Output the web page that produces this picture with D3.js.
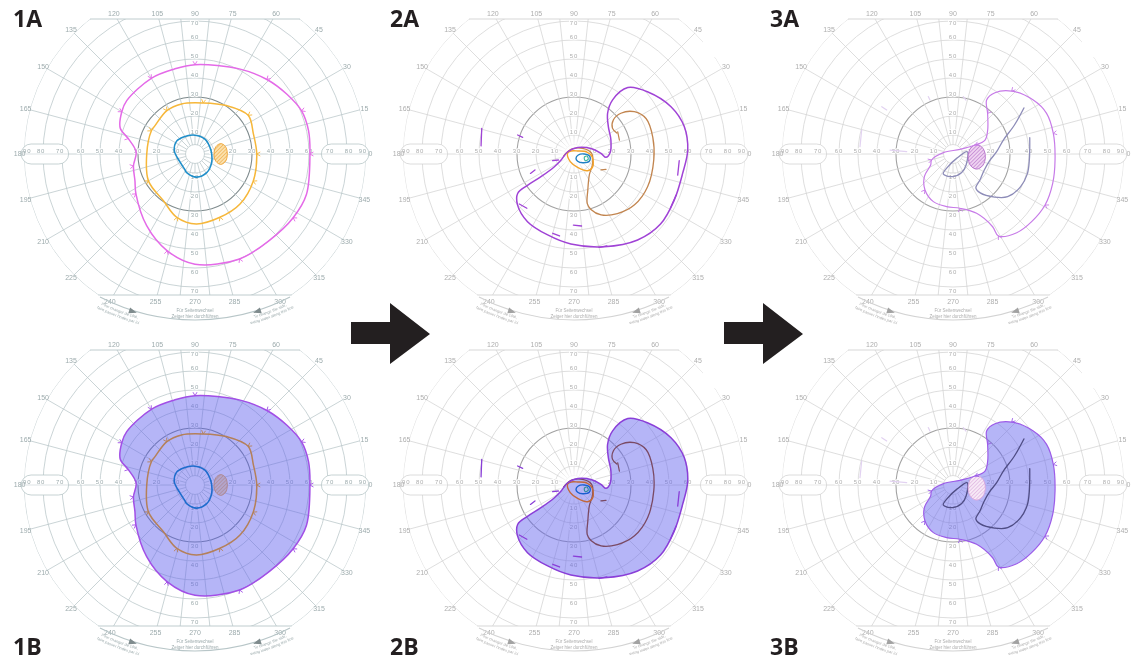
<!DOCTYPE html>
<meta charset="utf-8">
<style>
body { margin: 0; background: #fff; }
svg { will-change: transform; }
text { font-family: "Liberation Sans", Arial, sans-serif; }
.plabel { font-family: "Open Sans", sans-serif; font-weight: 700; font-size: 23px; fill: #231f20; }
</style>
<svg width="1131" height="664"></svg>
<script src="https://d3js.org/d3.v7.min.js"></script>
<script>

// ---- chart form (Goldmann perimeter) ----
var ringDeg = [5, 10, 20, 30, 40, 50, 60, 70, 80, 90];
var axisLabelDeg = [10, 20, 30, 40, 50, 60];
var capsuleDeg = [70, 80, 90];
var vertLabelDeg = [10, 20, 30, 40, 50, 60, 70];
var meridianDeg = [0, 15, 30, 45, 60, 75, 105, 120, 135, 150, 165, 180, 195, 210, 225, 240, 255, 285, 300, 315, 330, 345];
var nearVerticalDeg = [84, 96, 264, 276];
var meridianLabelDeg = [0, 15, 30, 45, 60, 75, 90, 105, 120, 135, 150, 165, 180, 195, 210, 225, 240, 255, 270, 285, 300, 315, 330, 345];

var panelNames = ["1A", "2A", "3A", "1B", "2B", "3B"];
var colX = [195, 574, 953];
var rowY = [154, 485];

// ---- isopters: [meridian angle, eccentricity] ----
var magenta1 = [[0,60.5],[11.6,61],[22,60.5],[33,57.7],[46,54.5],[62,50.6],[90,47],[104,46],[120,46],[142,45.6],[150,44.5],[161,41.6],[167,36],[178,31],[191,33],[204,34.6],[214,37.5],[236,45.5],[254,53],[270,58],[293,60],[311,60],[327,61.6],[340,62.4]];
var orange1 = [[0,32.5],[19,32.5],[36,34.6],[57,30.4],[81,27.2],[105,27.3],[123,27.2],[145,25.8],[152,26],[180,25.4],[210,28.3],[236,29.7],[254,34.7],[271,36.8],[291.5,35.8],[312,35.4],[335,33.8]];
var blue1 = [[0,8.8],[23,8.6],[56,9.4],[95,10],[124,10.8],[145,11.8],[171,11],[205,9],[237,9.8],[246,10.7],[274,12.2],[302,11.6],[332,9.9]];
var blind1 = [[0,17],[14,16.5],[22,14.6],[19.5,11.7],[0,10],[340.5,11.7],[338,14.6],[346,16.5]];

var purple2 = [[51,45],[40,50.8],[26,56.8],[14,59.8],[2,59.9],[350,58.1],[335,58.1],[321,58.6],[306.5,56.3],[288,51.3],[268,47.4],[252,44.8],[235.5,43.2],[222,40],[215,36.2],[214,29.3],[214.5,21.1],[213,12.3],[205,7.5],[160,3.5],[60,3.9],[18,9.4],[1.5,14.2],[354,16.9],[2,19],[21,20.8],[38.5,23.1],[50.5,27.8],[54.5,35]];
var brown2 = [[191,5.5],[123,2.9],[33,5.4],[2,9.3],[333,11],[306,13.7],[291,20.3],[285,27],[287,30.5],[294,35.1],[306,38.8],[320,41.6],[336,42.4],[356,42.1],[12,42.4],[26,42.3],[35,38.8],[41,32.7],[41,27.5],[34,24.4],[26,25.1]];
var orange2 = [[174,3.4],[244,4.5],[285,7.3],[309,11.3],[326,11.9],[351.6,9.6],[8.7,6.9],[39,2.5],[135,2.2]];
var blue2 = [[295,2.5],[347,2.3],[0,5.4],[350.5,8.5],[334.4,8.9],[315,6.5],[296.6,4.3]];
var teal2 = [[342,5.7],[351,6.9],[339.6,8],[329.5,6.9]];
var purpleBits2 = [
  [[164.5,50.4],[175,49.1]], [[161.4,31.3],[162,28.4]], [[204,25.1],[202.3,22.2]],
  [[197.4,11.8],[201,8.8]], [[356.4,55.5],[348.5,55.7]], [[338,57.9],[330.6,58.2]],
  [[269.5,37.4],[276,38.1]], [[222.4,39],[229,37.8]], [[285,50.9],[289.7,51.4]],
  [[255,43.2],[260,43.8]]
];
var brownBits2 = [[[329.4,16.5],[334.4,18.7]], [[27,25.8],[17,25]]];

var violet3 = [[195.7,11.7],[172,5.1],[33.7,4.4],[22.2,12.5],[23.6,18.4],[34.7,22.2],[49.6,28.1],[58.1,33.5],[55.6,39.1],[47,45.3],[33.9,50.9],[23.5,53.7],[11.6,53.9],[356.6,53.8],[343.6,54.7],[331,55.4],[319.3,54.6],[309,53.3],[299,49.3],[298.6,43.6],[291.7,33.6],[277.3,28.8],[263.1,27.9],[247.6,27.1],[232.1,24],[218.3,19.2],[206.2,13.1]];
var slate3 = [[33,44.5],[25,35.5],[15.5,27.5],[3,23],[349,19.5],[332,18.5],[316,19.7],[304,21.5],[305,25],[314,31.5],[322,36.5],[334,39.5],[345,40.5],[355.5,40.3],[12,41.3]];
var loop3 = [[9,7.6],[310,3],[247,7.6],[244,11.7],[269,11.9],[295,10.8],[320,9]];
var blind3 = [[355,17.1],[11,16],[22,13.5],[18.5,9.8],[349.5,8.1],[326.5,11.1],[327.5,14.8],[339,16.8]];
var faintBits3 = [
  [[165.3,49.7],[175.5,49.1]], [[146.4,45],[146.4,41.9]], [[113.3,32.9],[113.1,30.9]],
  [[176.4,33.2],[177.1,24.4]], [[79.8,30.7],[76.5,29.2]]
];

// ---- setup ----
var svg = d3.select("svg");
var defs = svg.append("defs");
var r = d3.scaleLinear().domain([0, 90]).range([0, 171]);
var topCut = -135, bottomCut = 141;

defs.append("clipPath").attr("id", "clipRect").append("rect")
    .attr("x", -200).attr("y", topCut).attr("width", 400).attr("height", bottomCut - topCut);
defs.append("clipPath").attr("id", "clipCircle").append("circle").attr("r", r(90));

var glow = defs.append("radialGradient").attr("id", "centerGlow");
glow.append("stop").attr("offset", "0%").attr("stop-color", "#fff").attr("stop-opacity", 0.95);
glow.append("stop").attr("offset", "60%").attr("stop-color", "#fff").attr("stop-opacity", 0.7);
glow.append("stop").attr("offset", "100%").attr("stop-color", "#fff").attr("stop-opacity", 0);

function hatch(id, bg, fg) {
  var p = defs.append("pattern").attr("id", id).attr("patternUnits", "userSpaceOnUse")
      .attr("width", 2.6).attr("height", 2.6).attr("patternTransform", "rotate(45)");
  p.append("rect").attr("width", 2.6).attr("height", 2.6).attr("fill", bg);
  p.append("line").attr("x1", 0).attr("y1", 0).attr("x2", 0).attr("y2", 2.6)
      .attr("stroke", fg).attr("stroke-width", 1.1);
}
hatch("hOrange", "#fbe1ae", "#eea436");
hatch("hViolet", "#efd3f1", "#b46cc9");
hatch("hPink", "#f7e9f6", "#d9a6dc");

function pt(d) {
  var a = d[0] * Math.PI / 180;
  return [r(d[1]) * Math.cos(a), -r(d[1]) * Math.sin(a)];
}
var closedLine = d3.line().curve(d3.curveCatmullRomClosed.alpha(0.5));
var openLine = d3.line().curve(d3.curveCatmullRom.alpha(0.5));

var theme1 = {line: "#b8c6c8", dark: "#7f8b8d", text: "#9dabad"};
var theme23 = {line: "#d3d3d3", dark: "#a2a2a2", text: "#aeaeae"};

function drawBase(g, th, idx) {
  var inner = g.append("g").attr("clip-path", "url(#clipRect)")
      .append("g").attr("clip-path", "url(#clipCircle)");

  inner.selectAll("circle").data(ringDeg).join("circle")
      .attr("r", function(d) { return r(d); })
      .attr("fill", "none")
      .attr("stroke", function(d) { return d === 30 ? th.dark : th.line; })
      .attr("stroke-width", function(d) { return d === 30 ? 1.1 : 0.75; });

  inner.selectAll("line.m").data(meridianDeg).join("line").attr("class", "m")
      .attr("x1", function(d) { return pt([d, 5])[0]; })
      .attr("y1", function(d) { return pt([d, 5])[1]; })
      .attr("x2", function(d) { return pt([d, 96])[0]; })
      .attr("y2", function(d) { return pt([d, 96])[1]; })
      .attr("stroke", th.line).attr("stroke-width", 0.75);

  inner.selectAll("line.v").data(nearVerticalDeg).join("line").attr("class", "v")
      .attr("x1", function(d) { return pt([d, 10])[0]; })
      .attr("y1", function(d) { return pt([d, 10])[1]; })
      .attr("x2", function(d) { return pt([d, 96])[0]; })
      .attr("y2", function(d) { return pt([d, 96])[1]; })
      .attr("stroke", th.line).attr("stroke-width", 0.75);

  inner.selectAll("line.s").data([90, 270]).join("line").attr("class", "s")
      .attr("x1", function(d) { return pt([d, 5])[0]; })
      .attr("y1", function(d) { return pt([d, 5])[1]; })
      .attr("x2", function(d) { return pt([d, 10])[0]; })
      .attr("y2", function(d) { return pt([d, 10])[1]; })
      .attr("stroke", th.line).attr("stroke-width", 0.75);

  // top and bottom chords
  [topCut, bottomCut].forEach(function(y) {
    var hx = Math.sqrt(r(90) * r(90) - y * y);
    g.append("line").attr("x1", -hx).attr("x2", hx).attr("y1", y).attr("y2", y)
        .attr("stroke", th.line).attr("stroke-width", 0.9);
  });

  // capsules on the horizontal meridian
  [1, -1].forEach(function(s) {
    var x0 = r(66.5), x1 = r(91.5);
    g.append("rect").attr("x", s > 0 ? x0 : -x1).attr("y", -10)
        .attr("width", x1 - x0).attr("height", 20).attr("rx", 10)
        .attr("fill", "#fff").attr("stroke", th.line).attr("stroke-width", 0.8);
    g.append("line").attr("x1", s * x0).attr("x2", s * x1).attr("y1", 0).attr("y2", 0)
        .attr("stroke", th.line).attr("stroke-width", 0.5);
    g.selectAll(null).data(capsuleDeg).join("text")
        .attr("x", function(d) { return s * r(d === 90 ? 88.3 : d + 1); })
        .attr("y", -1.5).attr("text-anchor", "middle")
        .attr("font-size", 6).attr("fill", th.text).attr("letter-spacing", 0.8)
        .text(function(d) { return d; });
  });

  var halo = function(sel) {
    sel.attr("stroke", "#fff").attr("stroke-width", 2).attr("paint-order", "stroke")
       .attr("font-size", 6).attr("fill", th.text).attr("text-anchor", "middle")
       .attr("letter-spacing", 0.8);
  };
  [1, -1].forEach(function(s) {
    g.selectAll(null).data(axisLabelDeg).join("text")
        .attr("x", function(d) { return s * r(d); }).attr("y", -1.5)
        .text(function(d) { return d; }).call(halo);
  });
  g.selectAll(null).data(vertLabelDeg).join("text")
      .attr("x", 0).attr("y", function(d) { return -Math.min(r(d) + 3, 131) + 2; })
      .text(function(d) { return d; }).call(halo);
  g.selectAll(null).data(vertLabelDeg).join("text")
      .attr("x", 0).attr("y", function(d) { return Math.min(r(d) + 4, 137.5) + 2; })
      .text(function(d) { return d; }).call(halo);

  // meridian labels
  g.selectAll(null).data(meridianLabelDeg).join("text")
      .attr("transform", function(d) {
        var p = pt([d, 92.3]), k = 1;
        if (p[1] < -140.5) k = -140.5 / p[1];
        if (p[1] > 147.5) k = 147.5 / p[1];
        return "translate(" + (p[0] * k) + "," + (p[1] * k) + ")";
      })
      .attr("text-anchor", "middle").attr("dy", "0.35em")
      .attr("font-size", 7).attr("fill", th.text)
      .text(function(d) { return d; });

  // side-change arc with arrows and notes
  var R = 208, oy = -41;
  var arcPath = function(rad) {
    var a0 = 130 * Math.PI / 180, a1 = 50 * Math.PI / 180;
    return "M" + (rad * Math.cos(a0)) + "," + (oy + rad * Math.sin(a0)) +
           "A" + rad + "," + rad + " 0 0 0 " + (rad * Math.cos(a1)) + "," + (oy + rad * Math.sin(a1));
  };
  g.append("path").attr("d", "M-95,143A" + R + "," + R + " 0 0 0 95,143")
      .attr("fill", "none").attr("stroke", th.line).attr("stroke-width", 1.1);
  [[-62, 17.4], [62, 162.6]].forEach(function(a) {
    var y = oy + Math.sqrt(R * R - a[0] * a[0]);
    g.append("path").attr("d", "M4,0L-4,-3L-4,3Z")
        .attr("transform", "translate(" + a[0] + "," + y + ") rotate(" + a[1] + ")")
        .attr("fill", th.dark);
  });
  var pid = "arc" + idx;
  [[R + 5.5, "a"], [R + 10.5, "b"]].forEach(function(q) {
    defs.append("path").attr("id", pid + q[1]).attr("d", arcPath(q[0]));
  });
  var notes = [
    ["a", "24%", "Pour changer de côté,"], ["b", "24%", "faire passer l'index par ici"],
    ["a", "76%", "To change the side,"], ["b", "76%", "swing index along this line"]
  ];
  notes.forEach(function(n) {
    g.append("text").attr("font-size", 4).attr("fill", th.text)
        .append("textPath").attr("href", "#" + pid + n[0])
        .attr("startOffset", n[1]).attr("text-anchor", "middle").text(n[2]);
  });
  g.append("text").attr("x", 0).attr("y", 158).attr("text-anchor", "middle")
      .attr("font-size", 4.5).attr("fill", th.text).text("Für Seitenwechsel");
  g.append("text").attr("x", 0).attr("y", 164).attr("text-anchor", "middle")
      .attr("font-size", 4.5).attr("fill", th.text).text("Zeiger hier durchführen");
}

function closed(g, data, color, w, fill) {
  return g.append("path").attr("d", closedLine(data.map(pt)))
      .attr("fill", fill || "none").attr("stroke", color).attr("stroke-width", w)
      .attr("stroke-linejoin", "round");
}
function open(g, data, color, w) {
  return g.append("path").attr("d", openLine(data.map(pt)))
      .attr("fill", "none").attr("stroke", color).attr("stroke-width", w)
      .attr("stroke-linecap", "round");
}
function bits(g, data, color, w, op) {
  g.selectAll(null).data(data).join("path")
      .attr("d", function(d) { return d3.line()(d.map(pt)); })
      .attr("fill", "none").attr("stroke", color).attr("stroke-width", w)
      .attr("stroke-linecap", "round").attr("opacity", op || 1);
}
function chevrons(g, data, color, step) {
  data.forEach(function(d, i) {
    if (i % step) return;
    var a = d[0] * Math.PI / 180, ux = Math.cos(a), uy = -Math.sin(a), tx = -uy, ty = ux;
    var p = pt(d);
    g.append("path")
        .attr("d", "M" + (p[0] + 3.5 * ux + 2 * tx) + "," + (p[1] + 3.5 * uy + 2 * ty) +
              "L" + p[0] + "," + p[1] +
              "L" + (p[0] + 3.5 * ux - 2 * tx) + "," + (p[1] + 3.5 * uy - 2 * ty))
        .attr("fill", "none").attr("stroke", color).attr("stroke-width", 0.9);
  });
}

var fillColor = "#6262ee", fillOpacity = 0.47;

panelNames.forEach(function(name, i) {
  var col = i % 3, row = Math.floor(i / 3);
  var g = svg.append("g").attr("transform", "translate(" + colX[col] + "," + rowY[row] + ")");
  drawBase(g, col === 0 ? theme1 : theme23, i);
  if (col > 0) {
    g.append("rect").attr("x", 129).attr("y", -160).attr("width", 60).attr("height", 63).attr("fill", "#fff");
  }
  if (col === 1) {
    g.append("circle").attr("r", r(10)).attr("fill", "url(#centerGlow)");
  }
  var B = row === 1;

  if (col === 0) {
    closed(g, blind1, "#eea436", 0.9, "url(#hOrange)");
    if (B) closed(g, magenta1, "none", 0, fillColor).attr("fill-opacity", fillOpacity);
    closed(g, orange1, B ? "#b4805a" : "#f6b73a", 1.5);
    chevrons(g, orange1, B ? "#b4805a" : "#f6b73a", 2);
    closed(g, blue1, B ? "#1e6ccd" : "#1f8ec9", 1.6);
    closed(g, magenta1, B ? "#a24fe6" : "#e46ae8", 1.5);
    chevrons(g, magenta1, B ? "#a24fe6" : "#e46ae8", 2);
  }
  if (col === 1) {
    if (B) closed(g, purple2, "none", 0, fillColor).attr("fill-opacity", fillOpacity);
    open(g, brown2, B ? "#7a4a64" : "#c2854f", 1.3);
    bits(g, brownBits2, B ? "#7a4a64" : "#c2854f", 1.2);
    closed(g, orange2, B ? "#c2683a" : "#f3a42a", 1.4);
    closed(g, blue2, B ? "#1a5ed0" : "#1e7fc4", 1.4);
    closed(g, teal2, B ? "#2a8c9a" : "#35b39a", 1.1);
    closed(g, purple2, B ? "#8a3fd8" : "#a043d6", 1.5);
    bits(g, purpleBits2, B ? "#8a3fd8" : "#a043d6", 1.3);
  }
  if (col === 2) {
    bits(g, faintBits3, "#e2d2f1", 1.2);
    if (B) closed(g, violet3, "none", 0, fillColor).attr("fill-opacity", fillOpacity);
    open(g, slate3, B ? "#4f4d85" : "#8d8cb8", 1.3);
    closed(g, loop3, B ? "#4f4d85" : "#8d8cb8", 1.3);
    closed(g, blind3, B ? "#d9a6dc" : "#b46cc9", 0.9, B ? "url(#hPink)" : "url(#hViolet)");
    closed(g, violet3, B ? "#9c5ce8" : "#c77be8", 1.2);
    chevrons(g, violet3, B ? "#9c5ce8" : "#c77be8", 3);
  }
});

// panel labels
var labelPos = [[13, 27], [390, 27], [770, 27], [13, 655], [390, 655], [770, 655]];
svg.selectAll("text.plabel").data(panelNames).join("text").attr("class", "plabel")
    .attr("x", function(d, i) { return labelPos[i][0]; })
    .attr("y", function(d, i) { return labelPos[i][1]; })
    .text(function(d) { return d; });

// progression arrows
[0, 373].forEach(function(dx) {
  svg.append("path")
      .attr("d", "M351,322L390,322L390,303L430,334L390,364L390,344L351,344Z")
      .attr("transform", "translate(" + dx + ",0)")
      .attr("fill", "#231f20");
});

</script>
